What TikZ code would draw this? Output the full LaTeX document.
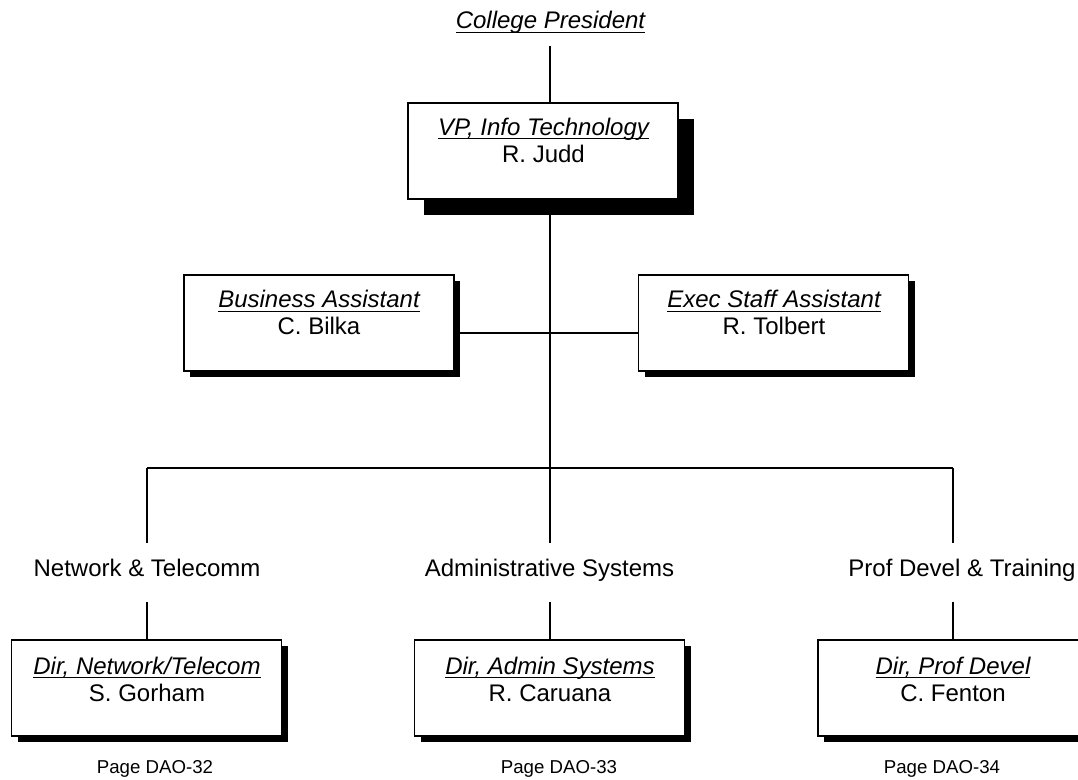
\documentclass[tikz,border=0pt]{standalone}
\usepackage{fontspec}
\setmainfont{Liberation Sans}
\usetikzlibrary{shadows,backgrounds}
\newcommand\ulit[1]{\setbox0\hbox{\itshape #1}\rlap{\rule[-2.9pt]{\wd0}{1pt}}\box0}
\begin{document}
\begin{tikzpicture}[x=0.75pt,y=-0.75pt,
  conn/.style={line width=1.3pt},
  orgbox/.style={draw, fill=white, line width=1.2pt, inner sep=0pt,
    minimum width=202.5pt, minimum height=72pt},
  shd/.style={drop shadow={shadow xshift=4.8pt, shadow yshift=-4.8pt, fill=black, opacity=1}},
  bigshd/.style={drop shadow={shadow xshift=12.3pt, shadow yshift=-12pt, fill=black, opacity=1}},
  txt/.style={anchor=base, inner sep=0pt, font=\fontsize{18pt}{20pt}\selectfont},
  pg/.style={anchor=base, inner sep=0pt, font=\fontsize{14pt}{16pt}\selectfont}]
\useasboundingbox (0,0) rectangle (1078,780);
\clip (0,0) rectangle (1078,780);

% top
\node[txt] (cp) at (550.5,29) {\ulit{College President}};
\node[orgbox,bigshd] (vp) at (543,151) {};
\node[txt] (vpt) at (543.5,135.5) {\ulit{VP, Info Technology}};
\node[txt] (vpn) at (543.5,162.5) {R. Judd};

% assistants
\node[orgbox,shd] (ba) at (319,323) {};
\node[txt] (bat) at (319,308) {\ulit{Business Assistant}};
\node[txt] (ban) at (319,335) {C. Bilka};
\node[orgbox,shd] (ea) at (773.5,323) {};
\node[txt] (eat) at (774,308) {\ulit{Exec Staff Assistant}};
\node[txt] (ean) at (774,335) {R. Tolbert};

% divisions
\node[txt] (nl) at (147,576.5) {Network \& Telecomm};
\node[txt] (al) at (549.5,576.5) {Administrative Systems};
\node[txt] (pl) at (962,576.5) {Prof Devel \& Training};

% directors
\node[orgbox,shd] (nb) at (146.5,688) {};
\node[txt] (nbt) at (147,674.5) {\ulit{Dir, Network/Telecom}};
\node[txt] (nbn) at (147,701) {S. Gorham};
\node[orgbox,shd] (ab) at (549.5,688) {};
\node[txt] (abt) at (550,674.5) {\ulit{Dir, Admin Systems}};
\node[txt] (abn) at (550,701) {R. Caruana};
\node[orgbox,shd] (pb) at (953,688) {};
\node[txt] (pbt) at (953,674.5) {\ulit{Dir, Prof Devel}};
\node[txt] (pbn) at (953,701) {C. Fenton};

% page refs
\node[pg] (p1) at (155,773) {Page DAO-32};
\node[pg] (p2) at (559,773) {Page DAO-33};
\node[pg] (p3) at (942,773) {Page DAO-34};

% connector coordinates
\coordinate (c0) at (550,46);
\coordinate (hb) at (550,333);
\coordinate (b1) at (147,468);
\coordinate (b2) at (550,468);
\coordinate (b3) at (953,468);
\coordinate (n1a) at (147,543);
\coordinate (n2a) at (550,543);
\coordinate (n3a) at (953,543);
\coordinate (n1b) at (147,602);
\coordinate (n2b) at (550,602);
\coordinate (n3b) at (953,602);

\begin{pgfonlayer}{background}
\draw[conn] (c0) -- (c0 |- vp.north);
\draw[conn] (c0 |- vp.south) -- (b2);
\draw[conn] (ba.east |- hb) -- (ea.west |- hb);
\draw[conn] (b1) -- (b3);
\draw[conn] (b1) -- (n1a);
\draw[conn] (b2) -- (n2a);
\draw[conn] (b3) -- (n3a);
\draw[conn] (n1b) -- (n1b |- nb.north);
\draw[conn] (n2b) -- (n2b |- ab.north);
\draw[conn] (n3b) -- (n3b |- pb.north);
\end{pgfonlayer}
\end{tikzpicture}
\end{document}
